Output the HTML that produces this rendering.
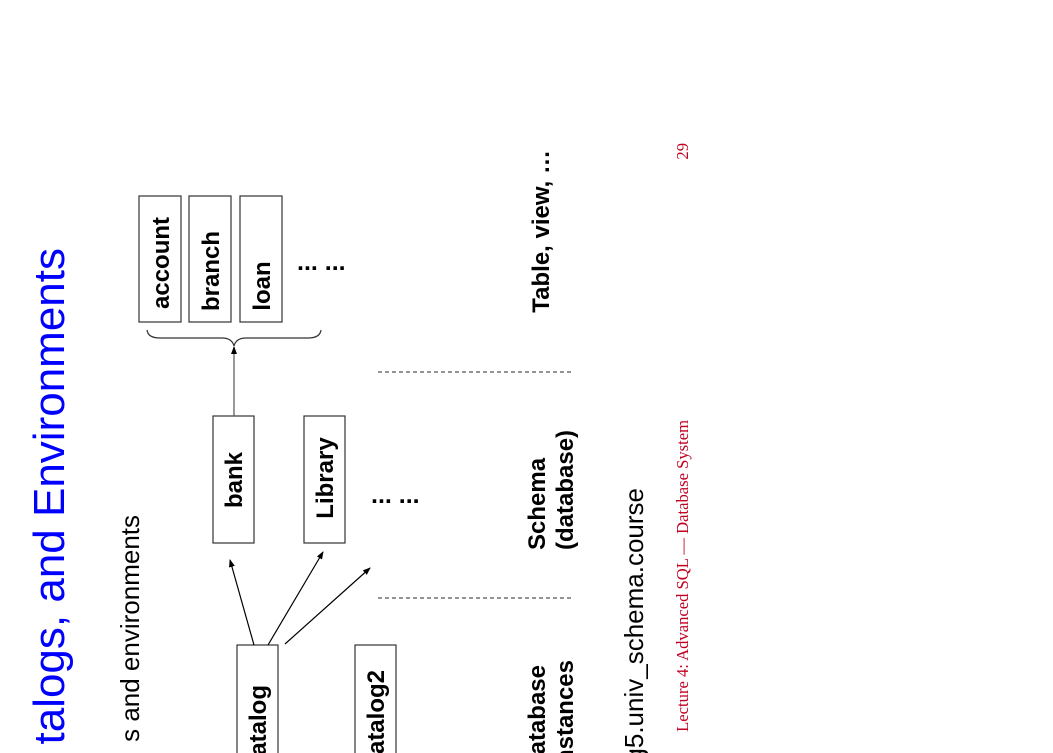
<!DOCTYPE html>
<html><head><meta charset="utf-8"><style>
html,body{margin:0;padding:0;background:#fff;width:1053px;height:753px;overflow:hidden;}
svg{display:block;}
</style></head><body>
<svg width="1053" height="753" viewBox="0 0 1053 753" xmlns="http://www.w3.org/2000/svg" font-family="Liberation Sans, Arial, sans-serif">
<defs><marker id="ah" markerWidth="8" markerHeight="8" refX="7" refY="4" orient="auto" markerUnits="userSpaceOnUse"><path d="M0,1 L8,4 L0,7 z" fill="#000"/></marker></defs>
<text transform="translate(64,248) rotate(-90)" text-anchor="end" font-size="44" fill="#0000ff">talogs, and Environments</text>
<text transform="translate(139,515) rotate(-90)" text-anchor="end" font-size="26" fill="#000">s and environments</text>
<g fill="#fff" stroke="#333" stroke-width="1.2">
<rect x="139" y="196" width="42" height="126"/>
<rect x="189" y="196" width="42" height="126"/>
<rect x="240" y="196" width="42" height="126"/>
<rect x="213" y="416" width="41" height="127"/>
<rect x="304" y="416" width="41" height="127"/>
<rect x="237" y="645" width="41" height="120"/>
<rect x="355" y="645" width="41" height="120"/>
</g>
<g font-weight="bold" font-size="24" fill="#000" text-anchor="middle">
<text transform="translate(169,263) rotate(-90)">account</text>
<text transform="translate(219,271) rotate(-90)">branch</text>
<text transform="translate(270,286) rotate(-90)">loan</text>
<text transform="translate(242,480) rotate(-90)">bank</text>
<text transform="translate(333,478) rotate(-90)">Library</text>
</g>
<g font-weight="bold" font-size="24" fill="#000" text-anchor="end">
<text transform="translate(266,685) rotate(-90)">catalog</text>
<text transform="translate(384,670) rotate(-90)">catalog2</text>
</g>
<text x="297" y="270" font-weight="bold" font-size="25">... ...</text>
<text x="371" y="503" font-weight="bold" font-size="25">... ...</text>
<path d="M147,330 Q148,338 160,338 L222,338 Q232,338 234,346 Q236,338 246,338 L308,338 Q320,338 321,330" fill="none" stroke="#333" stroke-width="1.2"/>
<g stroke="#000" stroke-width="1.2" marker-end="url(#ah)">
<line x1="234" y1="416" x2="234" y2="347" stroke="#555"/>
<line x1="254" y1="645" x2="230" y2="560"/>
<line x1="268" y1="645" x2="323" y2="552"/>
<line x1="285" y1="644" x2="370" y2="568"/>
</g>
<g stroke="#555" stroke-width="1.2" stroke-dasharray="4,3">
<line x1="378" y1="372" x2="572" y2="372"/>
<line x1="378" y1="598" x2="572" y2="598"/>
</g>
<g font-weight="bold" font-size="24" fill="#000">
<text transform="translate(549,150) rotate(-90)" text-anchor="end">Table, view, …</text>
<text transform="translate(545,550) rotate(-90)">Schema</text>
<text transform="translate(573,550) rotate(-90)">(database)</text>
<text transform="translate(545,665) rotate(-90)" text-anchor="end">Database</text>
<text transform="translate(573,660) rotate(-90)" text-anchor="end">instances</text>
</g>
<text transform="translate(643,488) rotate(-90)" text-anchor="end" font-size="26" fill="#000">catalog5.univ_schema.course</text>
<text transform="translate(688,420) rotate(-90)" text-anchor="end" font-size="16.6" fill="#c00020" font-family="Liberation Serif, serif">Lecture 4: Advanced SQL — Database System</text>
<text transform="translate(688,143) rotate(-90)" text-anchor="end" font-size="16.6" fill="#c00020" font-family="Liberation Serif, serif">29</text>
</svg>
</body></html>
